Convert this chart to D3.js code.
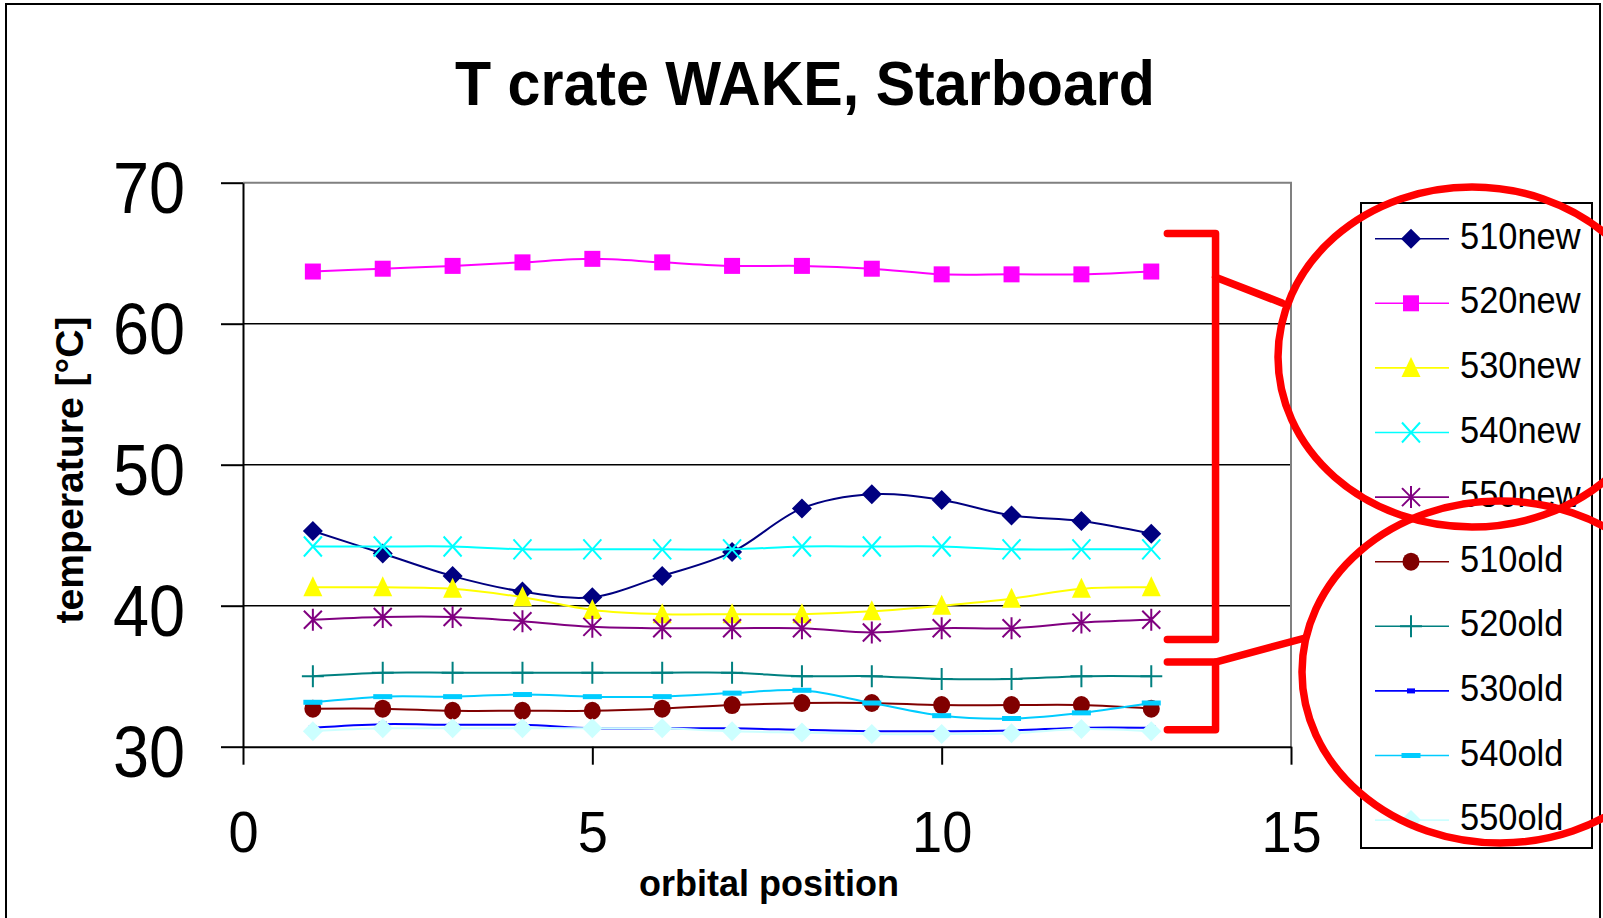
<!DOCTYPE html>
<html>
<head>
<meta charset="utf-8">
<script src="https://cdn.jsdelivr.net/npm/d3@7"></script>
<style>
  body { margin: 0; background: #fff; }
  text { font-family: "Liberation Sans", Arial, sans-serif; }
</style>
</head>
<body>
<div id="container"></div>
<script>
/* CONSTANTS AND GLOBALS */
const width = 1603,
    height = 918;

// DATA
const positions = [1, 2, 3, 4, 5, 6, 7, 8, 9, 10, 11, 12, 13];
const t510new = [45.3, 43.7, 42.1, 41.0, 40.6, 42.1, 43.8, 46.9, 47.9, 47.5, 46.4, 46.0, 45.1];
const t520new = [63.7, 63.9, 64.1, 64.35, 64.6, 64.35, 64.1, 64.1, 63.9, 63.5, 63.5, 63.5, 63.7];
const t530new = [41.3, 41.3, 41.2, 40.6, 39.7, 39.4, 39.4, 39.4, 39.6, 40.0, 40.5, 41.2, 41.3];
const t540new = [44.2, 44.2, 44.2, 44.0, 44.0, 44.0, 44.0, 44.2, 44.2, 44.2, 44.0, 44.0, 44.0];
const t550new = [39.0, 39.2, 39.2, 38.9, 38.5, 38.4, 38.4, 38.4, 38.1, 38.4, 38.4, 38.8, 39.0];
const t510old = [32.7, 32.7, 32.55, 32.55, 32.55, 32.7, 32.95, 33.1, 33.1, 32.95, 32.95, 32.95, 32.7];
const t520old = [35.0, 35.25, 35.25, 35.25, 35.25, 35.25, 35.25, 35.0, 35.0, 34.8, 34.8, 35.0, 35.0];
const t530old = [31.35, 31.6, 31.55, 31.55, 31.3, 31.3, 31.3, 31.2, 31.1, 31.1, 31.15, 31.35, 31.35];
const t540old = [33.15, 33.55, 33.55, 33.7, 33.55, 33.55, 33.8, 34.0, 33.1, 32.2, 32.0, 32.4, 33.1];
const t550old = [31.1, 31.3, 31.3, 31.3, 31.3, 31.3, 31.1, 31.0, 30.9, 30.9, 30.95, 31.25, 31.1];

const seriesNames = ["510new", "520new", "530new", "540new", "550new",
    "510old", "520old", "530old", "540old", "550old"];
const seriesValues = [t510new, t520new, t530new, t540new, t550new,
    t510old, t520old, t530old, t540old, t550old];
const seriesColors = ["#000080", "#FF00FF", "#FFFF00", "#00FFFF", "#800080",
    "#800000", "#008080", "#0000FF", "#00CCFF", "#CCFFFF"];
const seriesMarkers = ["diamond", "square", "triangle", "x", "star",
    "circle", "plus", "smalldash", "dash", "diamond"];

const xTicks = [0, 5, 10, 15];
const yTicks = [30, 40, 50, 60, 70];
const yGrid = [40, 50, 60];

// red annotation brackets, in data units
const bracketNew = { x0: 13.23, x1: 13.92, top: 66.4, bottom: 37.6, arm: 63.3 };
const bracketOld = { x0: 13.23, x1: 13.92, top: 36.0, bottom: 31.2 };

// the original uses a slightly narrower Arial than Liberation Sans
function condense(sel, k) {
    sel.each(function () {
        const w = this.getComputedTextLength();
        d3.select(this)
            .attr("textLength", w * k)
            .attr("lengthAdjust", "spacingAndGlyphs");
    });
}

// SVG
const svg = d3.select("#container")
    .append("svg")
    .attr("width", width)
    .attr("height", height);

svg.append("rect")
    .attr("width", width).attr("height", height)
    .attr("fill", "white");

// outer frame
svg.append("path")
    .attr("d", "M6,930 V4 H1600 V930")
    .attr("fill", "none")
    .attr("stroke", "black")
    .attr("stroke-width", 2);

// SCALES
const xScale = d3.scaleLinear().domain([0, 15]).range([243, 1291]);
const yScale = d3.scaleLinear().domain([30, 70]).range([746.7, 182.7]);

// TITLE
svg.append("text")
    .attr("x", 805).attr("y", 105)
    .attr("text-anchor", "middle")
    .attr("font-size", 63)
    .attr("font-weight", "bold")
    .attr("textLength", 700)
    .attr("lengthAdjust", "spacingAndGlyphs")
    .text("T crate WAKE, Starboard");

// GRID + FRAME
svg.selectAll("line.grid")
    .data(yGrid)
    .join("line")
    .attr("class", "grid")
    .attr("x1", xScale(0)).attr("x2", xScale(15))
    .attr("y1", d => yScale(d)).attr("y2", d => yScale(d))
    .attr("stroke", "black")
    .attr("stroke-width", 1.6);

svg.append("path")
    .attr("d", `M${xScale(0)},${yScale(70)} H${xScale(15)} V${yScale(30)}`)
    .attr("fill", "none")
    .attr("stroke", "#808080")
    .attr("stroke-width", 2);

// AXES
const xAxis = svg.append("g")
    .attr("transform", `translate(0,${yScale(30)})`)
    .call(d3.axisBottom(xScale).tickValues(xTicks).tickSize(18).tickSizeOuter(0).tickPadding(47));
xAxis.select(".domain").attr("stroke-width", 2);
xAxis.selectAll(".tick line").attr("stroke-width", 2);
xAxis.selectAll("text")
    .attr("font-size", 57)
    .attr("font-family", "Liberation Sans, Arial, sans-serif")
    .attr("fill", "black")
    .call(condense, 0.95);

const yAxis = svg.append("g")
    .attr("transform", `translate(${xScale(0)},0)`)
    .call(d3.axisLeft(yScale).tickValues(yTicks).tickSize(22).tickSizeOuter(0).tickPadding(36));
yAxis.select(".domain").attr("stroke-width", 2);
yAxis.selectAll(".tick line").attr("stroke-width", 2);
yAxis.selectAll("text")
    .attr("font-size", 72)
    .attr("dy", "0.42em")
    .attr("font-family", "Liberation Sans, Arial, sans-serif")
    .attr("fill", "black")
    .call(condense, 0.9);

// AXIS TITLES
svg.append("text")
    .attr("x", 769).attr("y", 896)
    .attr("text-anchor", "middle")
    .attr("font-size", 36)
    .attr("font-weight", "bold")
    .text("orbital position");

svg.append("text")
    .attr("transform", "translate(83,470) rotate(-90)")
    .attr("text-anchor", "middle")
    .attr("font-size", 38)
    .attr("font-weight", "bold")
    .attr("textLength", 307)
    .attr("lengthAdjust", "spacingAndGlyphs")
    .text("temperature [°C]");

// MARKERS
function drawMarker(g, type, color) {
    if (type === "diamond") {
        g.append("path").attr("d", "M0,-10 L10,0 L0,10 L-10,0 Z").attr("fill", color);
    } else if (type === "square") {
        g.append("rect").attr("x", -8).attr("y", -8).attr("width", 16).attr("height", 16).attr("fill", color);
    } else if (type === "triangle") {
        g.append("path").attr("d", "M0,-11 L9.5,9 L-9.5,9 Z").attr("fill", color);
    } else if (type === "x") {
        g.append("path").attr("d", "M-9,-10 L9,10 M-9,10 L9,-10")
            .attr("stroke", color).attr("stroke-width", 2).attr("fill", "none");
    } else if (type === "star") {
        g.append("path").attr("d", "M-9,-9 L9,9 M-9,9 L9,-9 M0,-11 V11")
            .attr("stroke", color).attr("stroke-width", 2).attr("fill", "none");
    } else if (type === "circle") {
        g.append("ellipse").attr("rx", 8.5).attr("ry", 9).attr("fill", color);
    } else if (type === "plus") {
        g.append("path").attr("d", "M-11,0 H11 M0,-11 V11")
            .attr("stroke", color).attr("stroke-width", 2).attr("fill", "none");
    } else if (type === "smalldash") {
        g.append("rect").attr("x", -4).attr("y", -2.5).attr("width", 8).attr("height", 5).attr("fill", color);
    } else if (type === "dash") {
        g.append("rect").attr("x", -9.5).attr("y", -2.5).attr("width", 19).attr("height", 5).attr("fill", color);
    }
}

// SERIES
const lineGen = d3.line()
    .x(d => xScale(d.x))
    .y(d => yScale(d.y))
    .curve(d3.curveCatmullRom);

const series = seriesNames.map((name, i) => ({
    name: name,
    color: seriesColors[i],
    marker: seriesMarkers[i],
    points: positions.map((p, j) => ({ x: p, y: seriesValues[i][j] }))
}));

const seriesG = svg.selectAll("g.series")
    .data(series)
    .join("g")
    .attr("class", "series");

seriesG.append("path")
    .attr("d", d => lineGen(d.points))
    .attr("fill", "none")
    .attr("stroke", d => d.color)
    .attr("stroke-width", 2);

seriesG.each(function (s) {
    d3.select(this).selectAll("g.pt")
        .data(s.points)
        .join("g")
        .attr("class", "pt")
        .attr("transform", d => `translate(${xScale(d.x)},${yScale(d.y)})`)
        .each(function () { drawMarker(d3.select(this), s.marker, s.color); });
});

// LEGEND
const legend = svg.append("g");
legend.append("rect")
    .attr("x", 1361).attr("y", 203)
    .attr("width", 231).attr("height", 645)
    .attr("fill", "white")
    .attr("stroke", "black")
    .attr("stroke-width", 2);

const legendRows = legend.selectAll("g.item")
    .data(series)
    .join("g")
    .attr("class", "item")
    .attr("transform", (d, i) => `translate(1411,${238.7 + i * 64.6})`);

legendRows.append("line")
    .attr("x1", -36).attr("x2", 38)
    .attr("stroke", d => d.color)
    .attr("stroke-width", 1.6);

legendRows.each(function (d) { drawMarker(d3.select(this), d.marker, d.color); });

legendRows.append("text")
    .attr("x", 49).attr("y", 10)
    .attr("font-size", 37)
    .text(d => d.name)
    .call(condense, 0.93);

// RED ANNOTATIONS
const red = svg.append("g")
    .attr("fill", "none")
    .attr("stroke", "#FF0000")
    .attr("stroke-width", 7.5)
    .attr("stroke-linecap", "round")
    .attr("stroke-linejoin", "round");

red.append("path")
    .attr("d", `M${xScale(bracketNew.x0)},${yScale(bracketNew.top)} H${xScale(bracketNew.x1)} V${yScale(bracketNew.bottom)} H${xScale(bracketNew.x0)}`);
red.append("path")
    .attr("d", `M${xScale(bracketNew.x1)},${yScale(bracketNew.arm)} L1282,303`);

red.append("path")
    .attr("d", `M${xScale(bracketOld.x0)},${yScale(bracketOld.top)} H${xScale(bracketOld.x1)} V${yScale(bracketOld.bottom)} H${xScale(bracketOld.x0)}`);
red.append("path")
    .attr("d", `M${xScale(bracketOld.x1)},${yScale(bracketOld.top)} L1305,638`);

red.append("ellipse")
    .attr("cx", 1472).attr("cy", 357)
    .attr("rx", 194).attr("ry", 170);
red.append("ellipse")
    .attr("cx", 1500).attr("cy", 672)
    .attr("rx", 198).attr("ry", 171);
</script>
</body>
</html>
